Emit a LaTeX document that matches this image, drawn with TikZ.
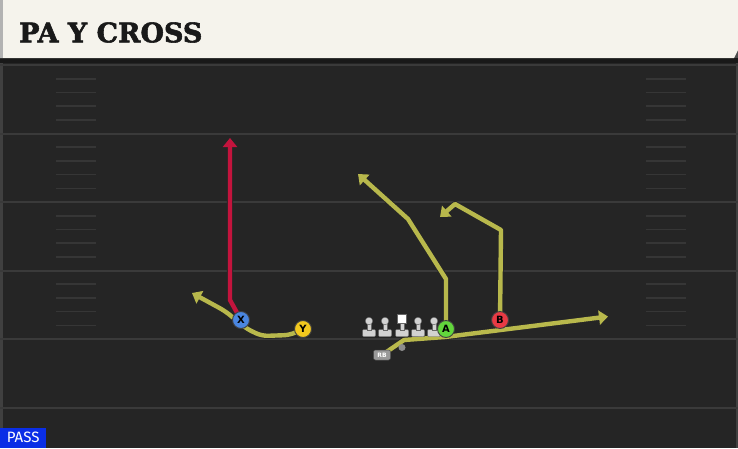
\documentclass[tikz,border=0pt]{standalone}
\usepackage{fontspec}
\setmainfont{DejaVu Sans}
\newfontfamily\titlefont[BoldFeatures={FakeBold=2}]{DejaVu Serif}
\newfontfamily\passfont{Fira Sans}
\usetikzlibrary{arrows.meta}
\pgfdeclarelayer{back}
\pgfdeclarelayer{mid}
\pgfsetlayers{back,mid,main}
\definecolor{fieldbg}{HTML}{252525}
\definecolor{yardln}{HTML}{3A3A3A}
\definecolor{hashln}{HTML}{363636}
\definecolor{edgeln}{HTML}{404040}
\definecolor{headbg}{HTML}{F5F3EC}
\definecolor{routey}{HTML}{B8B84C}
\definecolor{router}{HTML}{C3143D}
\definecolor{pblue}{HTML}{4A86E0}
\definecolor{pyellow}{HTML}{F2C81E}
\definecolor{pgreen}{HTML}{62D63C}
\definecolor{pred}{HTML}{E83A44}
\definecolor{passblue}{HTML}{0A2EE6}
\definecolor{olgray}{HTML}{D2D2D2}
\tikzset{
  player/.style={circle, minimum size=17pt, inner sep=0pt, draw=black!75, line width=0.9pt,
    font=\bfseries\fontsize{10}{10}\selectfont, text=black},
  routebase/.style={line width=4.4pt, line join=round, line cap=butt,
    preaction={draw=black!85, line width=6.2pt, line join=round}},
  yroute/.style={routebase, draw=routey, -{Triangle[width=14pt,length=9pt]}},
  rroute/.style={routebase, draw=router, -{Triangle[width=14pt,length=9pt]}},
  yard/.style={draw=yardln, line width=2pt},
  hash/.style={draw=hashln, line width=1.6pt},
  lineman/.style={fill=olgray, draw=black!60, line width=0.4pt},
}
\begin{document}
\begin{tikzpicture}[x=1pt,y=-1pt]
\useasboundingbox (0,0) rectangle (738,448);
\begin{pgfonlayer}{back}
  \fill[fieldbg] (0,0) rectangle (738,448);
  \fill[edgeln] (0,62) rectangle (2.5,448);
  \fill[edgeln] (735.5,62) rectangle (738,448);
  % yard lines
  \foreach \yy in {65,133.5,202,270.5,339,407.5}
    \draw[yard] (0,\yy) -- (738,\yy);
  % hash marks
  \foreach \yy in {65,133.5,202,270.5}
    \foreach \k in {1,2,3,4} {
      \draw[hash] (56,\yy+13.7*\k) -- (96,\yy+13.7*\k);
      \draw[hash] (646,\yy+13.7*\k) -- (686,\yy+13.7*\k);
    }
  % header
  \fill[black!90] (0,57) rectangle (738,63);
  \fill[black!70] (734,50) -- (738,50) -- (738,58) -- (734,58) -- cycle;
  \fill[headbg] (0,0) -- (738,0) -- (738,50) -- (734,58) -- (0,58) -- cycle;
  \fill[black!30] (0,0) rectangle (3,58);
\end{pgfonlayer}

\node[anchor=west, font=\titlefont\bfseries\fontsize{27}{27}\selectfont, text=black!90, inner sep=0pt] (title) at (19,32.5) {PA Y CROSS};

\node[fill=passblue, text=white, font=\passfont\fontsize{15}{15}\selectfont, anchor=south west,
  minimum width=46pt, minimum height=20pt, inner sep=0pt] (pass) at (0,448) {PASS};

% linemen
\foreach \lx/\nm in {369/l1,385/l2,418/l4,434/l5} {
  \fill[lineman, rounded corners=1pt] (\lx-6.5,329.5) rectangle (\lx+6.5,336.5);
  \fill[lineman] (\lx-2.2,322) rectangle (\lx+2.2,330);
  \node[circle, fill=olgray, draw=black!60, line width=0.4pt, minimum size=7.5pt, inner sep=0pt] (\nm) at (\lx,321) {};
}
\fill[lineman, rounded corners=1pt] (395.5,329.5) rectangle (408.5,336.5);
\fill[lineman] (399.8,322) rectangle (404.2,330);
\node[rectangle, fill=white, draw=black!60, line width=0.4pt, minimum size=9pt, inner sep=0pt] (ctr) at (402,318.5) {};

% QB
\node[circle, fill=black!45, minimum size=7pt, inner sep=0pt] (qb) at (402,347.5) {};
% RB
\node[rounded corners=2pt, fill=black!40, draw=black!70, line width=0.5pt, minimum width=17pt, minimum height=10pt,
  inner sep=0pt, font=\bfseries\fontsize{6}{6}\selectfont, text=white] (RB) at (382,355) {RB};

% receivers
\node[player, fill=pblue] (X) at (241,320) {X};
\node[player, fill=pyellow] (Y) at (303,329) {Y};
\node[player, fill=pgreen] (A) at (446,329) {A};
\node[player, fill=pred] (B) at (500,320) {B};

% route points
\coordinate (xr1) at (230,300);
\coordinate (xr2) at (230,138);
\coordinate (yr1) at (290,335);
\coordinate (yr2) at (262,336);
\coordinate (yr3) at (247,329);
\coordinate (yr4) at (225,311);
\coordinate (yr5) at (192,293);
\coordinate (ar1) at (446,279);
\coordinate (ar2) at (408,219);
\coordinate (ar3) at (358,174);
\coordinate (br1) at (501,230);
\coordinate (br2) at (455,204);
\coordinate (br3) at (440,217);
\coordinate (rr1) at (404,340);
\coordinate (rr2) at (445,337);
\coordinate (rr3) at (608,316.5);

\begin{pgfonlayer}{mid}
  \draw[rroute] (X.center) -- (xr1) -- (xr2);
  \draw[yroute, rounded corners=6pt] (Y.center) -- (yr1) -- (yr2) -- (yr3) -- (yr4) -- (yr5);
  \draw[yroute] (A.center) -- (ar1) -- (ar2) -- (ar3);
  \draw[yroute] (B.center) -- (br1) -- (br2) -- (br3);
  \draw[yroute] (RB.center) -- (rr1) -- (rr2) -- (rr3);
\end{pgfonlayer}
\end{tikzpicture}
\end{document}
